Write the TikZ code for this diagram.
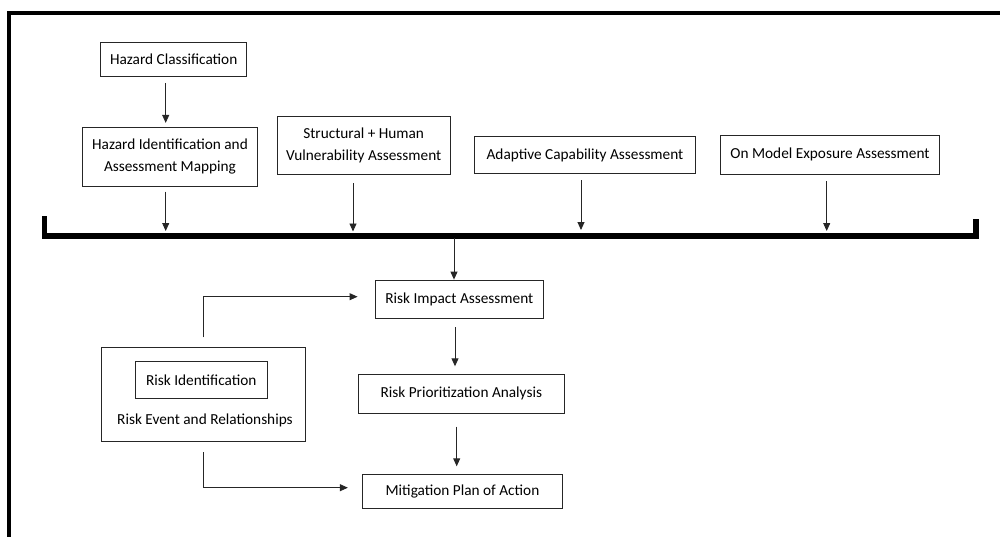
\documentclass[tikz,border=0pt]{standalone}
\usepackage{fontspec}
\setmainfont{Carlito}
\usetikzlibrary{arrows.meta}
\begin{document}
\begin{tikzpicture}[x=1pt,y=-1pt,
  box/.style={draw=black!85, line width=0.9pt, inner sep=0pt, align=center,
    font=\fontsize{15.3}{22.5}\selectfont},
  lbl/.style={inner sep=0pt, font=\fontsize{15.3}{22.5}\selectfont},
  arr/.style={draw=black!85, line width=0.9pt, -{Triangle[length=8pt,width=7pt]}},
  frame/.style={line width=4.3pt, line join=miter},
  barline/.style={line width=5.5pt, line join=miter}]
\useasboundingbox (0,0) rectangle (1000,536);
% frame
\coordinate (fb) at (9,540);
\coordinate (fc) at (9,13);
\coordinate (fr) at (1004,13);
\draw[frame] (fb) -- (fc) -- (fr);
% top boxes
\node[box, minimum width=146pt, minimum height=33.6pt] (hc) at (173.7,59.5) {Hazard Classification};
\node[box, minimum width=174.6pt, minimum height=58.7pt] (hi) at (170,156.7) {Hazard Identification and\\Assessment Mapping};
\node[box, minimum width=172.7pt, minimum height=58.7pt] (sv) at (363.7,145.3) {Structural + Human\\Vulnerability Assessment};
\node[box, minimum width=221.4pt, minimum height=36.6pt] (ac) at (585,155) {Adaptive Capability Assessment};
\node[box, minimum width=218.6pt, minimum height=38.3pt] (om) at (830,154.8) {On Model Exposure Assessment};
% bar
\coordinate (bl0) at (44.7,216);
\coordinate (bl) at (44.7,236);
\coordinate (br) at (976,236);
\coordinate (br0) at (976,219);
\draw[barline] (bl0) -- (bl) -- (br) -- (br0);
% lower boxes
\node[box, minimum width=168pt, minimum height=38.3pt] (ri) at (459.3,299.2) {Risk Impact Assessment};
\node[box, minimum width=206pt, minimum height=39.3pt] (rp) at (461.3,393.7) {Risk Prioritization Analysis};
\node[box, minimum width=199.6pt, minimum height=34.3pt] (mp) at (462.5,491.2) {Mitigation Plan of Action};
\node[box, minimum width=203.6pt, minimum height=94pt] (outer) at (203.5,394.7) {};
\node[box, minimum width=132pt, minimum height=36.6pt] (inner) at (201.3,380) {Risk Identification};
\node[lbl] (rel) at (205,420) {Risk Event and Relationships};
% arrow columns
\coordinate (c1) at (165.7,0);
\coordinate (c2) at (353,0);
\coordinate (c3) at (581,0);
\coordinate (c4) at (826.7,0);
\coordinate (c5) at (454,0);
\coordinate (c6) at (455,0);
\coordinate (c7) at (456.7,0);
\coordinate (c8) at (203.3,0);
% arrows
\draw[arr, shorten <=6pt, shorten >=4pt] (hc.south -| c1) -- (hi.north -| c1);
\draw[arr, shorten <=5pt, shorten >=5pt] (hi.south -| c1) -- (bl -| c1);
\draw[arr, shorten <=8pt, shorten >=4.5pt] (sv.south -| c2) -- (bl -| c2);
\draw[arr, shorten <=6.7pt, shorten >=6pt] (ac.south -| c3) -- (bl -| c3);
\draw[arr, shorten <=7pt, shorten >=5pt] (om.south -| c4) -- (bl -| c4);
\draw[arr, shorten <=2pt] (bl -| c5) -- (ri.north -| c5);
\draw[arr, shorten <=8.4pt, shorten >=7.3pt] (ri.south -| c6) -- (rp.north -| c6);
\draw[arr, shorten <=12.7pt, shorten >=7.3pt] (rp.south -| c7) -- (mp.north -| c7);
\draw[arr, shorten <=10pt, shorten >=17.3pt] (outer.north -| c8) |- ([yshift=2.5pt]ri.west);
\draw[arr, shorten <=10pt, shorten >=14.4pt] (outer.south -| c8) |- ([yshift=3.5pt]mp.west);
\end{tikzpicture}
\end{document}
